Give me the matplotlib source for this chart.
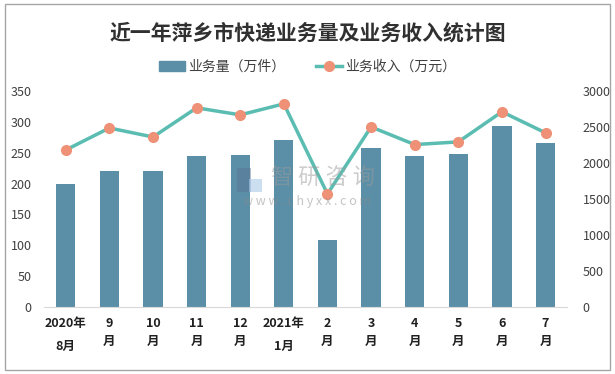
import numpy as np
from matplotlib import pyplot as plt
import matplotlib.patches as patches
from matplotlib.lines import Line2D

plt.rcParams['font.family'] = ['Noto Sans CJK SC', 'DejaVu Sans']

months = ['2020年\n8月', '9\n月', '10\n月', '11\n月', '12\n月', '2021年\n1月',
          '2\n月', '3\n月', '4\n月', '5\n月', '6\n月', '7\n月']
volume = [200, 220, 221, 244, 246, 270, 108, 257, 244, 247, 293, 266]       # 万件
revenue = [2180, 2485, 2360, 2765, 2667, 2820, 1570, 2500, 2255, 2292, 2710, 2418]  # 万元

bar_color = '#5b8fa8'
line_color = '#5bbdb2'
marker_color = '#ee9177'
text_color = '#404040'

fig = plt.figure(figsize=(6.15, 3.74), dpi=100)
ax = fig.add_axes([0.0715, 0.179, 0.851, 0.578])
x = np.arange(len(months))

ax.bar(x, volume, width=0.44, color=bar_color, zorder=2)
ax.set_xlim(-0.5, len(months) - 0.5)
ax.set_ylim(0, 350)
ax.set_yticks(np.arange(0, 351, 50))

ax2 = ax.twinx()
ax2.plot(x, revenue, color=line_color, lw=2.5, marker='o', ms=7,
         mfc=marker_color, mec=marker_color, zorder=3)
ax2.set_ylim(0, 3000)
ax2.set_yticks(np.arange(0, 3001, 500))

for a in (ax, ax2):
    for s in a.spines.values():
        s.set_visible(False)
    a.tick_params(length=0, labelsize=9, labelcolor=text_color)
ax.spines['bottom'].set_visible(True)
ax.spines['bottom'].set_color('#d9d9d9')
ax.tick_params(axis='y', pad=9)
ax2.tick_params(axis='y', pad=11)

ax.set_xticks(x)
ax.set_xticklabels(months, fontsize=9, fontweight='bold', color='#202020')
ax.tick_params(axis='x', pad=7)
for i, lab in enumerate(ax.get_xticklabels()):
    lab.set_verticalalignment('top')
    lab.set_linespacing(2.0 if '年' in months[i] else 1.5)

# watermark (logo + text), drawn on top with transparency
fig.text(323 / 615, 1 - 178 / 374, '智 研 咨 询', fontsize=16, color='#9a9a9a',
         alpha=0.5, ha='center', va='center')
fig.text(307 / 615, 1 - 201 / 374, 'w w w . c h y x x . c o m', fontsize=9,
         color='#8a8a8a', alpha=0.5, ha='center', va='center')
fig.add_artist(patches.Rectangle((237 / 615, 1 - 192 / 374), 14 / 615, 24 / 374,
                                 transform=fig.transFigure, color='#5a7090',
                                 alpha=0.45, lw=0))
fig.add_artist(patches.Rectangle((249 / 615, 1 - 192 / 374), 13 / 615, 13 / 374,
                                 transform=fig.transFigure, color='#a9cbe9',
                                 alpha=0.6, lw=0))

fig.text(0.5, 1 - 33 / 374, '近一年萍乡市快递业务量及业务收入统计图', fontsize=15,
         fontweight='bold', color='#303030', ha='center', va='center')

handles = [patches.Patch(color=bar_color),
           Line2D([], [], color=line_color, lw=2.5, marker='o', ms=7,
                  mfc=marker_color, mec=marker_color)]
fig.legend(handles, ['业务量（万件）', '业务收入（万元）'], loc='center',
           bbox_to_anchor=(0.5, 1 - 67 / 374), ncol=2, frameon=False,
           fontsize=10, handlelength=1.9, handletextpad=0.2, columnspacing=2.2,
           labelcolor=text_color)

fig.add_artist(patches.Rectangle((5 / 615, 4 / 374), 605 / 615, 366 / 374,
                                 transform=fig.transFigure, fill=False,
                                 edgecolor='#a6a6a6', lw=1))

fig.savefig('out.png', dpi=100)
